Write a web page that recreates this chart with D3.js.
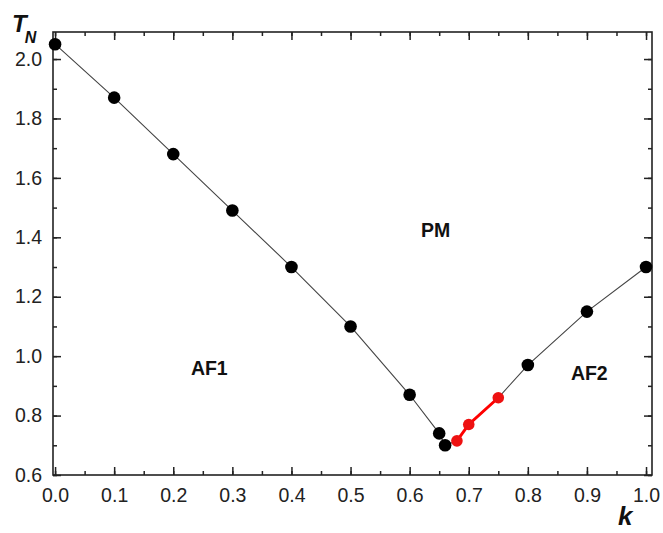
<!DOCTYPE html>
<html><head><meta charset="utf-8">
<script src="https://cdn.jsdelivr.net/npm/d3@7/dist/d3.min.js"></script>
<style>body{margin:0;background:#fff}svg{display:block}text{font-family:"Liberation Sans",Arial,sans-serif}</style>
</head><body>
<svg id="c" width="663" height="533"></svg>
<script>
const kBlack = [0, 0.1, 0.2, 0.3, 0.4, 0.5, 0.6, 0.65, 0.66, 0.8, 0.9, 1.0];
const tBlack = [2.05, 1.87, 1.68, 1.49, 1.30, 1.10, 0.87, 0.74, 0.70, 0.97, 1.15, 1.30];
const kRed = [0.68, 0.70, 0.75];
const tRed = [0.715, 0.77, 0.86];
const xTicks = [0, 0.1, 0.2, 0.3, 0.4, 0.5, 0.6, 0.7, 0.8, 0.9, 1.0];
const yTicks = [0.6, 0.8, 1.0, 1.2, 1.4, 1.6, 1.8, 2.0];
const regionLabels = ["PM", "AF1", "AF2"];
const regionK = [0.644, 0.261, 0.904];
const regionT = [1.40, 0.60 + 100 / 297, 0.60 + 95 / 297];

const svg = d3.select("#c");
const L = 53, R = 652, T = 32, B = 475;
const x = d3.scaleLinear().domain([-0.0035, 1.0101]).range([L, R]);
const y = d3.scaleLinear().domain([0.6, 2.091]).range([B, T]);

const xMinor = d3.range(0, 1.0001, 0.05);
const yMinor = d3.range(0.6, 2.0901, 0.1);

function axis(gen, tr) {
  return svg.append("g").attr("transform", tr).call(gen)
    .call(g => g.select(".domain").remove());
}
const fmt = d3.format(".1f");
// bottom
axis(d3.axisBottom(x).tickValues(xMinor).tickSize(-4).tickFormat(""), `translate(0,${B})`);
axis(d3.axisBottom(x).tickValues(xTicks).tickSize(-8).tickPadding(13).tickFormat(fmt), `translate(0,${B})`)
  .selectAll("text").attr("font-size", 19.5).attr("fill", "#222");
// top
axis(d3.axisTop(x).tickValues(xMinor).tickSize(-4).tickFormat(""), `translate(0,${T})`);
axis(d3.axisTop(x).tickValues(xTicks).tickSize(-8).tickFormat(""), `translate(0,${T})`);
// left
axis(d3.axisLeft(y).tickValues(yMinor).tickSize(-4).tickFormat(""), `translate(${L},0)`);
axis(d3.axisLeft(y).tickValues(yTicks).tickSize(-8).tickPadding(11).tickFormat(fmt), `translate(${L},0)`)
  .selectAll("text").attr("font-size", 19.5).attr("fill", "#222");
// right
axis(d3.axisRight(y).tickValues(yMinor).tickSize(-4).tickFormat(""), `translate(${R},0)`);
axis(d3.axisRight(y).tickValues(yTicks).tickSize(-8).tickFormat(""), `translate(${R},0)`);
svg.selectAll(".tick line").attr("stroke", "#222").attr("stroke-width", 1.5);

svg.append("rect").attr("x", L).attr("y", T).attr("width", R - L).attr("height", B - T)
  .attr("fill", "none").attr("stroke", "#222").attr("stroke-width", 1.6);

const allPts = kBlack.map((k, i) => [k, tBlack[i]]).concat(kRed.map((k, i) => [k, tRed[i]]))
  .sort((a, b) => a[0] - b[0]);
const line = d3.line().x(d => x(d[0])).y(d => y(d[1]));
svg.append("path").attr("d", line(allPts)).attr("fill", "none").attr("stroke", "#444").attr("stroke-width", 1.1);
const redPts = kRed.map((k, i) => [k, tRed[i]]);
svg.append("path").attr("d", line(redPts)).attr("fill", "none").attr("stroke", "#ff0000").attr("stroke-width", 3);

svg.selectAll("circle.b").data(kBlack).enter().append("circle")
  .attr("cx", d => x(d)).attr("cy", (d, i) => y(tBlack[i])).attr("r", 6.3).attr("fill", "#000");
svg.selectAll("circle.r").data(kRed).enter().append("circle")
  .attr("cx", d => x(d)).attr("cy", (d, i) => y(tRed[i])).attr("r", 5.8).attr("fill", "#ee1111");

svg.selectAll("text.reg").data(regionLabels).enter().append("text")
  .attr("x", (d, i) => x(regionK[i])).attr("y", (d, i) => y(regionT[i]))
  .attr("text-anchor", "middle").attr("font-size", 19.5).attr("font-weight", "bold").attr("fill", "#111")
  .text(d => d);

const tl = svg.append("text").attr("x", 12).attr("y", 32).attr("font-size", 24)
  .attr("font-weight", "bold").attr("font-style", "italic").attr("fill", "#111");
tl.append("tspan").text("T");
tl.append("tspan").attr("font-size", 16).attr("dx", -2).attr("dy", 11).text("N");

svg.append("text").attr("x", 618).attr("y", 525).attr("font-size", 26)
  .attr("font-weight", "bold").attr("font-style", "italic").attr("fill", "#111").text("k");
</script>
</body></html>
